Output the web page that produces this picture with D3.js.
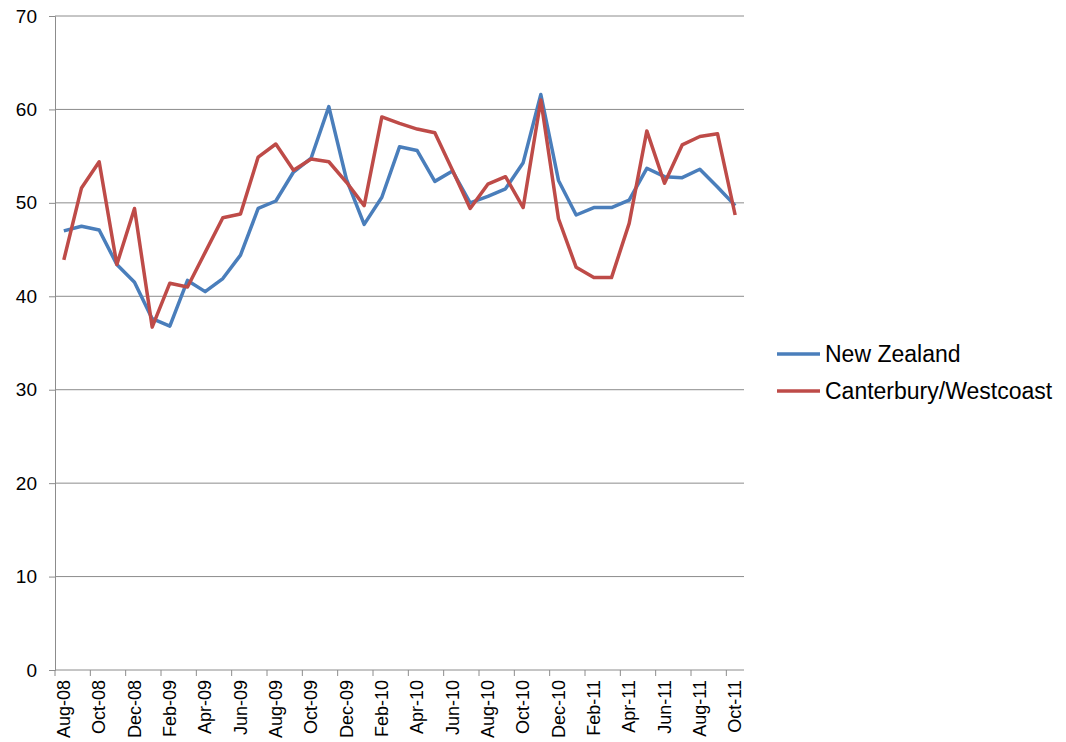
<!DOCTYPE html>
<html>
<head>
<meta charset="utf-8">
<script src="https://cdn.jsdelivr.net/npm/d3@7"></script>
<style>
  body { margin: 0; background: #fff; }
  svg { font-family: "Liberation Sans", Arial, sans-serif; }
</style>
</head>
<body>
<svg width="1066" height="742"></svg>
<script>
var months = [
    "Aug-08","Sep-08","Oct-08","Nov-08","Dec-08","Jan-09","Feb-09","Mar-09","Apr-09","May-09",
    "Jun-09","Jul-09","Aug-09","Sep-09","Oct-09","Nov-09","Dec-09","Jan-10","Feb-10","Mar-10",
    "Apr-10","May-10","Jun-10","Jul-10","Aug-10","Sep-10","Oct-10","Nov-10","Dec-10","Jan-11",
    "Feb-11","Mar-11","Apr-11","May-11","Jun-11","Jul-11","Aug-11","Sep-11","Oct-11"
];
var newZealand = [
    47.0, 47.5, 47.1, 43.4, 41.5, 37.6, 36.8, 41.7, 40.5, 41.9,
    44.4, 49.4, 50.2, 53.3, 54.8, 60.3, 52.5, 47.7, 50.6, 56.0,
    55.6, 52.3, 53.4, 50.0, 50.7, 51.5, 54.3, 61.6, 52.4, 48.7,
    49.5, 49.5, 50.3, 53.7, 52.8, 52.7, 53.6, 51.7, 49.7
];
var canterbury = [
    43.9, 51.6, 54.4, 43.4, 49.4, 36.7, 41.4, 41.0, 44.7, 48.4,
    48.8, 54.9, 56.3, 53.5, 54.7, 54.4, 52.2, 49.7, 59.2, 58.5,
    57.9, 57.5, 53.5, 49.4, 52.0, 52.8, 49.5, 61.0, 48.3, 43.1,
    42.0, 42.0, 47.8, 57.7, 52.1, 56.2, 57.1, 57.4, 48.7
];
var seriesNames = ["New Zealand", "Canterbury/Westcoast"];
var seriesColors = ["#4a7ebb", "#be4b48"];
var yTicks = [0, 10, 20, 30, 40, 50, 60, 70];

var svg = d3.select("svg");
var plotLeft = 55, plotRight = 744, plotTop = 16, plotBottom = 670;

var x = d3.scaleBand().domain(months).range([plotLeft, plotRight]);
var y = d3.scaleLinear().domain([0, 70]).range([plotBottom, plotTop]);

// gridlines
svg.append("g").selectAll("line")
    .data(yTicks.filter(function(d){ return d > 0; }))
    .join("line")
    .attr("x1", plotLeft).attr("x2", plotRight)
    .attr("y1", function(d){ return y(d); })
    .attr("y2", function(d){ return y(d); })
    .attr("stroke", "#8c8c8c").attr("stroke-width", 1);

// y axis
var yAxis = svg.append("g")
    .attr("transform", "translate(" + plotLeft + ",0)")
    .call(d3.axisLeft(y).tickValues(yTicks).tickSize(6).tickPadding(12));
yAxis.select(".domain").attr("stroke", "#8c8c8c");
yAxis.selectAll(".tick line").attr("stroke", "#8c8c8c");
yAxis.selectAll("text").attr("font-size", 19).attr("fill", "#000")
    .attr("font-family", "Liberation Sans, Arial, sans-serif");

// x axis: ticks between every second category
var xAxis = svg.append("g")
    .attr("transform", "translate(0," + plotBottom + ")");
xAxis.append("line")
    .attr("x1", plotLeft).attr("x2", plotRight)
    .attr("stroke", "#8c8c8c");
xAxis.selectAll("line.tk")
    .data(months.filter(function(d, i){ return i % 2 === 0; }))
    .join("line").attr("class", "tk")
    .attr("x1", function(d){ return x(d); })
    .attr("x2", function(d){ return x(d); })
    .attr("y1", 0).attr("y2", 6)
    .attr("stroke", "#8c8c8c");
xAxis.selectAll("text")
    .data(months.filter(function(d, i){ return i % 2 === 0; }))
    .join("text")
    .attr("transform", function(d){
        return "translate(" + (x(d) + x.bandwidth()/2 + 6) + ",10) rotate(-90)";
    })
    .attr("text-anchor", "end")
    .attr("font-size", 18)
    .text(function(d){ return d; });

// lines
var line = d3.line()
    .x(function(d, i){ return x(months[i]) + x.bandwidth()/2; })
    .y(function(d){ return y(d); });

[newZealand, canterbury].forEach(function(s, k){
    svg.append("path")
        .datum(s)
        .attr("d", line)
        .attr("fill", "none")
        .attr("stroke", seriesColors[k])
        .attr("stroke-width", 3.5)
        .attr("stroke-linejoin", "round");
});

// legend
var legend = svg.append("g");
seriesNames.forEach(function(name, k){
    var ly = 354 + k * 37;
    legend.append("line")
        .attr("x1", 777).attr("x2", 820)
        .attr("y1", ly).attr("y2", ly)
        .attr("stroke", seriesColors[k]).attr("stroke-width", 3.5);
    legend.append("text")
        .attr("x", 825).attr("y", ly)
        .attr("dy", "0.35em")
        .attr("font-size", 23)
        .text(name);
});
</script>
</body>
</html>
